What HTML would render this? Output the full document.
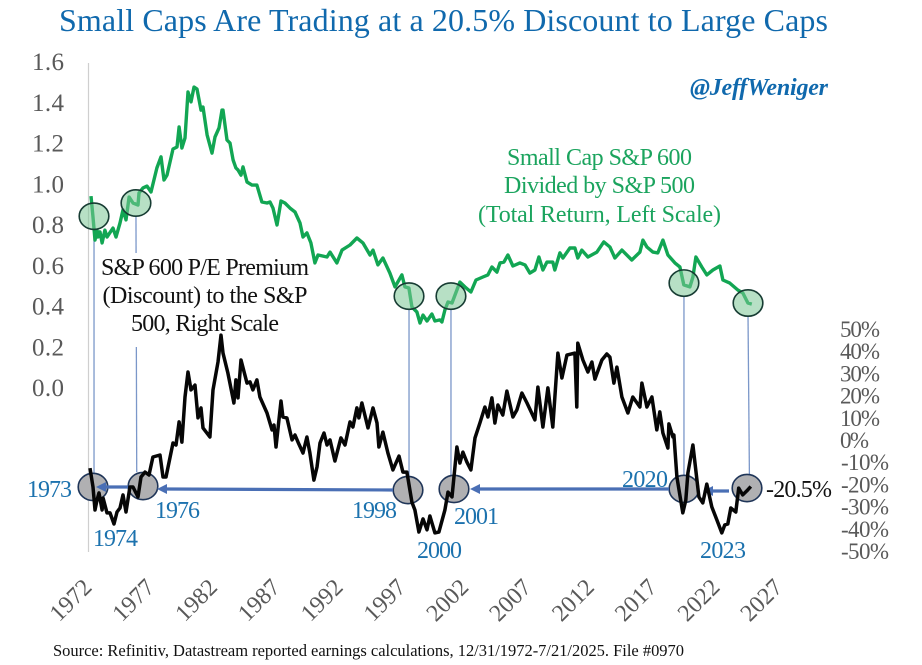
<!DOCTYPE html>
<html lang="en">
<head>
<meta charset="utf-8">
<title>Small Caps Are Trading at a 20.5% Discount to Large Caps</title>
<style>
html,body{margin:0;padding:0;background:#fff;width:922px;height:665px;overflow:hidden}
svg{display:block}
text{font-family:"Liberation Serif",serif}
.blue{fill:#1c72ae;font-size:24px}
.ltick{fill:#595959;font-size:25px}
.rtick{fill:#595959;font-size:23px}
.xtick{fill:#595959;font-size:24px}
.grn{fill:#1ba45e;font-size:24px;text-anchor:middle}
.blk{fill:#111;font-size:24px;text-anchor:middle}
</style>
</head>
<body>
<svg id="chart" xmlns="http://www.w3.org/2000/svg" width="922" height="665" viewBox="0 0 922 665">
  <rect x="0" y="0" width="922" height="665" fill="#ffffff"/>
  <text x="59" y="31" font-size="32" fill="#1069ad" textLength="769" lengthAdjust="spacing">Small Caps Are Trading at a 20.5% Discount to Large Caps</text>
  <text x="690" y="95" font-size="24" font-weight="bold" font-style="italic" fill="#1069ad" textLength="138" lengthAdjust="spacing">@JeffWeniger</text>
  <line x1="88.5" y1="63" x2="88.5" y2="552" stroke="#cfcfcf" stroke-width="1.2"/>

  <g id="connectors"></g>
  <rect x="99" y="253" width="213" height="94" fill="#ffffff"/>
  <g id="greyCircles"></g>

  <g stroke="#4a6fb5" fill="#4a6fb5">
    <line x1="128" y1="487" x2="104" y2="487" stroke-width="3.2"/>
    <polygon points="96,487 106,482 106,492" stroke="none"/>
    <line x1="393" y1="490" x2="165" y2="489" stroke-width="3.2"/>
    <polygon points="157,489 167,484 167,494" stroke="none"/>
    <line x1="669" y1="489" x2="478" y2="489" stroke-width="3.2"/>
    <polygon points="470,489 480,484 480,494" stroke="none"/>
    <line x1="729" y1="491" x2="711" y2="491" stroke-width="3.2"/>
    <polygon points="703,491 713,486 713,496" stroke="none"/>
  </g>

  <g id="series"></g>
  <g id="greenCircles"></g>
  <g id="axes"></g>

  <g>
    <text class="grn" x="599.5" y="165" textLength="185" lengthAdjust="spacing">Small Cap S&amp;P 600</text>
    <text class="grn" x="599.5" y="193" textLength="191" lengthAdjust="spacing">Divided by S&amp;P 500</text>
    <text class="grn" x="599.5" y="222" textLength="243" lengthAdjust="spacing">(Total Return, Left Scale)</text>
  </g>
  <g>
    <text class="blk" x="205" y="275" textLength="208" lengthAdjust="spacing">S&amp;P 600 P/E Premium</text>
    <text class="blk" x="205" y="303" textLength="205" lengthAdjust="spacing">(Discount) to the S&amp;P</text>
    <text class="blk" x="205" y="331" textLength="148" lengthAdjust="spacing">500, Right Scale</text>
  </g>

  <g>
    <text class="blue" x="27" y="497" textLength="45">1973</text>
    <text class="blue" x="93" y="546" textLength="45">1974</text>
    <text class="blue" x="155" y="518" textLength="45">1976</text>
    <text class="blue" x="352" y="518" textLength="45">1998</text>
    <text class="blue" x="454" y="524" textLength="45">2001</text>
    <text class="blue" x="417" y="558" textLength="45">2000</text>
    <text class="blue" x="622" y="487" textLength="46">2020</text>
    <text class="blue" x="700" y="558" textLength="46">2023</text>
  </g>
  <text x="766" y="497" font-size="24" fill="#111" textLength="66" lengthAdjust="spacing">-20.5%</text>
  <text x="53" y="656" font-size="16.5" fill="#111" textLength="631" lengthAdjust="spacing">Source: Refinitiv, Datastream reported earnings calculations, 12/31/1972-7/21/2025. File #0970</text>
</svg>

<script>
const leftTicks = ["1.6","1.4","1.2","1.0","0.8","0.6","0.4","0.2","0.0"];
const leftTickValues = [1.6,1.4,1.2,1.0,0.8,0.6,0.4,0.2,0];
const rightTicks = ["50%","40%","30%","20%","10%","0%","-10%","-20%","-30%","-40%","-50%"];
const rightTickValues = [50,40,30,20,10,0,-10,-20,-30,-40,-50];
const xTicks = [1972,1977,1982,1987,1992,1997,2002,2007,2012,2017,2022,2027];

const ratioYears = [1973.08,1973.24,1973.40,1973.56,1973.64,1973.80,1973.96,1974.19,1974.35,1974.83,1975.07,1975.39,1975.63,1975.87,1976.11,1976.42,1976.82,1976.90,1977.22,1977.54,1977.86,1978.33,1978.65,1978.89,1979.13,1979.61,1979.93,1980.09,1980.32,1980.56,1980.80,1981.04,1981.28,1981.52,1981.84,1982.00,1982.32,1982.71,1982.95,1983.27,1983.51,1983.59,1983.91,1984.15,1984.39,1984.62,1984.78,1985.02,1985.18,1985.50,1985.90,1986.29,1986.69,1987.09,1987.33,1987.57,1987.89,1988.21,1988.52,1988.92,1989.32,1989.72,1989.96,1990.27,1990.59,1990.91,1991.15,1991.87,1992.11,1992.66,1993.06,1993.70,1994.25,1994.73,1995.29,1995.53,1995.92,1996.32,1996.88,1997.28,1997.83,1998.07,1998.39,1998.63,1999.03,1999.27,1999.51,1999.83,2000.22,2000.46,2000.86,2001.02,2001.26,2001.50,2001.82,2002.21,2002.45,2002.85,2003.33,2003.73,2004.28,2004.68,2005.00,2005.40,2005.64,2005.95,2006.27,2006.67,2007.23,2007.63,2008.02,2008.42,2008.74,2009.06,2009.38,2009.85,2010.01,2010.41,2010.65,2011.21,2011.61,2011.84,2012.16,2012.64,2013.36,2013.91,2014.39,2014.79,2015.35,2016.14,2016.78,2017.02,2017.34,2017.82,2018.21,2018.61,2019.01,2019.57,2019.97,2020.28,2020.76,2021.00,2021.24,2021.71,2022.11,2022.59,2023.15,2023.39,2023.94,2024.58,2024.98,2025.38,2025.69];
const ratioValues = [.942,.839,.726,.775,.741,.766,.712,.775,.741,.785,.741,.810,.874,.825,.937,.908,.898,.957,.982,.991,.962,1.080,1.134,1.021,1.045,1.173,1.183,1.281,1.178,1.227,1.453,1.404,1.477,1.467,1.364,1.379,1.242,1.153,1.232,1.276,1.364,1.364,1.217,1.202,1.119,1.080,1.070,1.045,1.085,1.011,.996,.996,.913,.908,.913,.883,.800,.918,.908,.883,.864,.810,.741,.761,.712,.614,.653,.643,.667,.614,.677,.702,.736,.712,.653,.677,.604,.638,.564,.496,.555,.496,.491,.398,.373,.319,.358,.329,.363,.329,.334,.324,.383,.422,.417,.481,.520,.496,.471,.530,.545,.555,.594,.569,.614,.618,.653,.599,.614,.604,.564,.579,.643,.579,.618,.618,.579,.663,.638,.687,.687,.638,.677,.643,.667,.717,.692,.638,.677,.628,.667,.726,.692,.667,.663,.726,.653,.614,.594,.506,.496,.545,.643,.594,.555,.579,.599,.530,.515,.481,.466,.417,.412];

const premiumYears = [1973.00,1973.24,1973.40,1973.56,1973.72,1973.96,1974.04,1974.35,1974.59,1974.91,1975.15,1975.39,1975.63,1975.87,1976.18,1976.42,1976.82,1977.06,1977.38,1977.70,1978.01,1978.57,1978.81,1979.05,1979.61,1979.85,1980.09,1980.32,1980.56,1980.80,1981.04,1981.36,1981.60,1981.84,1982.00,1982.55,1982.79,1983.19,1983.43,1983.59,1983.98,1984.46,1984.62,1984.78,1985.02,1985.50,1985.74,1985.97,1986.29,1986.53,1987.09,1987.49,1987.65,1987.81,1988.21,1988.36,1988.68,1989.08,1989.32,1989.56,1989.96,1990.27,1990.51,1990.83,1991.07,1991.31,1991.63,1991.87,1992.11,1992.50,1992.98,1993.30,1993.70,1993.93,1994.25,1994.41,1994.65,1995.13,1995.53,1995.85,1996.00,1996.32,1996.72,1997.12,1997.60,1997.91,1998.23,1998.63,1998.87,1999.19,1999.51,1999.83,2000.06,2000.46,2000.78,2001.26,2001.50,2001.82,2002.21,2002.45,2002.69,2003.01,2003.33,2003.65,2004.04,2004.44,2004.68,2005.00,2005.24,2005.48,2005.87,2006.19,2006.67,2006.99,2007.39,2007.79,2008.42,2008.66,2009.06,2009.46,2009.85,2010.25,2010.57,2010.97,2011.61,2011.76,2011.84,2012.24,2012.64,2012.96,2013.20,2013.76,2014.15,2014.39,2014.71,2014.95,2015.35,2015.83,2016.22,2016.78,2016.94,2017.34,2017.74,2018.13,2018.37,2018.61,2019.01,2019.09,2019.41,2019.49,2019.73,2020.20,2020.44,2020.60,2021.00,2021.48,2021.79,2022.11,2022.51,2022.91,2023.30,2023.54,2023.78,2024.02,2024.42,2024.65,2024.97,2025.29,2025.61];
const premiumValues = [-12.2,-20.7,-31.1,-26.6,-23.4,-31.1,-25.7,-32.4,-32.4,-37.4,-32.0,-30.2,-24.3,-32.0,-20.7,-20.7,-25.2,-16.2,-14.0,-15.3,-7.2,-6.3,-16.2,-16.2,-0.9,-1.8,8.6,-0.5,19.8,31.1,23.0,25.2,10.4,14.9,5.9,1.8,23.0,35.6,47.7,39.6,30.6,17.1,27.5,19.4,36.5,26.1,26.6,23.0,27.5,19.8,12.6,5.0,7.2,-2.7,18.0,10.8,10.4,0.5,2.7,-0.5,-5.4,1.8,-5.4,-17.6,-11.7,-0.9,3.6,-1.8,0.5,-9.0,1.4,-1.8,8.6,6.3,14.9,10.4,17.1,5.9,14.9,8.1,-2.7,4.0,-5.4,-13.0,-6.8,-14.0,-14.0,-27.5,-31.1,-41.0,-35.1,-40.0,-33.8,-41.4,-41.0,-31.1,-23.0,-25.2,-2.7,-9.9,-5.0,-9.5,-13.0,1.4,8.1,15.3,10.8,19.4,8.1,16.2,11.7,22.5,10.8,14.0,21.6,17.1,9.5,24.3,6.3,23.9,6.3,39.6,28.4,38.7,39.6,15.3,44.1,36.5,31.1,35.6,27.9,36.5,39.2,37.8,26.1,33.3,19.8,12.6,19.8,15.3,26.1,15.3,19.8,5.0,13.1,3.6,-3.2,7.7,1.8,2.7,-16.2,-32.4,-26.6,-14.4,-1.8,-25.2,-27.9,-19.4,-29.7,-35.6,-41.4,-37.8,-37.4,-30.2,-32.0,-21.2,-24.3,-22.5,-20.5];

const ratioCircleYears = [1973.32,1976.66,1998.40,2001.74,2020.29,2025.39];
const ratioCircleValues = [.843,.908,.451,.451,.515,.417];
const premiumCircleYears = [1973.24,1977.22,1998.32,2001.98,2020.29,2025.31];
const premiumCircleValues = [-20.7,-20.3,-22.1,-21.6,-21.6,-21.2];
const connectorBottomYears = [1973.32,1976.72,1998.40,2001.74,2020.29,2025.50];

const NS = 'http://www.w3.org/2000/svg';
const xScale = function (year) { return 90 + (year - 1973) * 12.56; };
const yLeft = function (v) { return 388 - v * 203.75; };
const yRight = function (v) { return 441 - v * 2.22; };

function make(tag, parent, attrs, text) {
  const el = document.createElementNS(NS, tag);
  for (const k in attrs) el.setAttribute(k, attrs[k]);
  if (text !== undefined) el.textContent = text;
  parent.appendChild(el);
  return el;
}
function linePath(xs, ys, yFn) {
  return xs.map(function (x, i) {
    return (i ? 'L' : 'M') + xScale(x).toFixed(1) + ' ' + yFn(ys[i]).toFixed(1);
  }).join(' ');
}

const series = document.getElementById('series');
const ratioLine = make('path', series, {d: linePath(ratioYears, ratioValues, yLeft), fill: 'none', stroke: '#12a653', 'stroke-width': 3.4, 'stroke-linejoin': 'round'});


const premiumLine = make('path', series, {d: linePath(premiumYears, premiumValues, yRight), fill: 'none', stroke: '#060606', 'stroke-width': 3.5, 'stroke-linejoin': 'round'});



const connectors = document.getElementById('connectors');
const greenGroup = document.getElementById('greenCircles');
const greyGroup = document.getElementById('greyCircles');
ratioCircleYears.forEach(function (yr, i) {
  const gx = xScale(yr), gy = yLeft(ratioCircleValues[i]);
  const px = xScale(premiumCircleYears[i]), py = yRight(premiumCircleValues[i]);
  const conn = make('line', connectors, {x1: gx, y1: gy + 13, x2: xScale(connectorBottomYears[i]), y2: py - 14, stroke: '#7b97c9', 'stroke-width': 1.3});
  
  
  const green = make('ellipse', greenGroup, {cx: gx, cy: gy, rx: 14.8, ry: 13.2, fill: '#7cc695', 'fill-opacity': 0.55, stroke: '#173c33', 'stroke-width': 1.6});
  
  
  const grey = make('ellipse', greyGroup, {cx: px, cy: py, rx: 14.8, ry: 13.6, fill: '#b0b0b2', stroke: '#1f3558', 'stroke-width': 1.6});
  
  
});

const axes = document.getElementById('axes');
leftTicks.forEach(function (label, i) {
  const t = make('text', axes, {class: 'ltick', x: 32, y: yLeft(leftTickValues[i]) + 8, textLength: 32}, label);
  
  
});
rightTicks.forEach(function (label, i) {
  const t = make('text', axes, {class: 'rtick', x: label.charAt(0) === '-' ? 841 : 840, y: yRight(rightTickValues[i]) + 7, textLength: label.length === 4 ? 48 : (label.length === 3 ? 40 : 29)}, label);
  
  
});
xTicks.forEach(function (year) {
  const cx = xScale(year) - 7;
  const t = make('text', axes, {class: 'xtick', x: cx, y: 608, 'text-anchor': 'middle', transform: 'rotate(-45 ' + cx + ' 600)', textLength: 48}, String(year));
  
  
});
</script>
</body>
</html>
